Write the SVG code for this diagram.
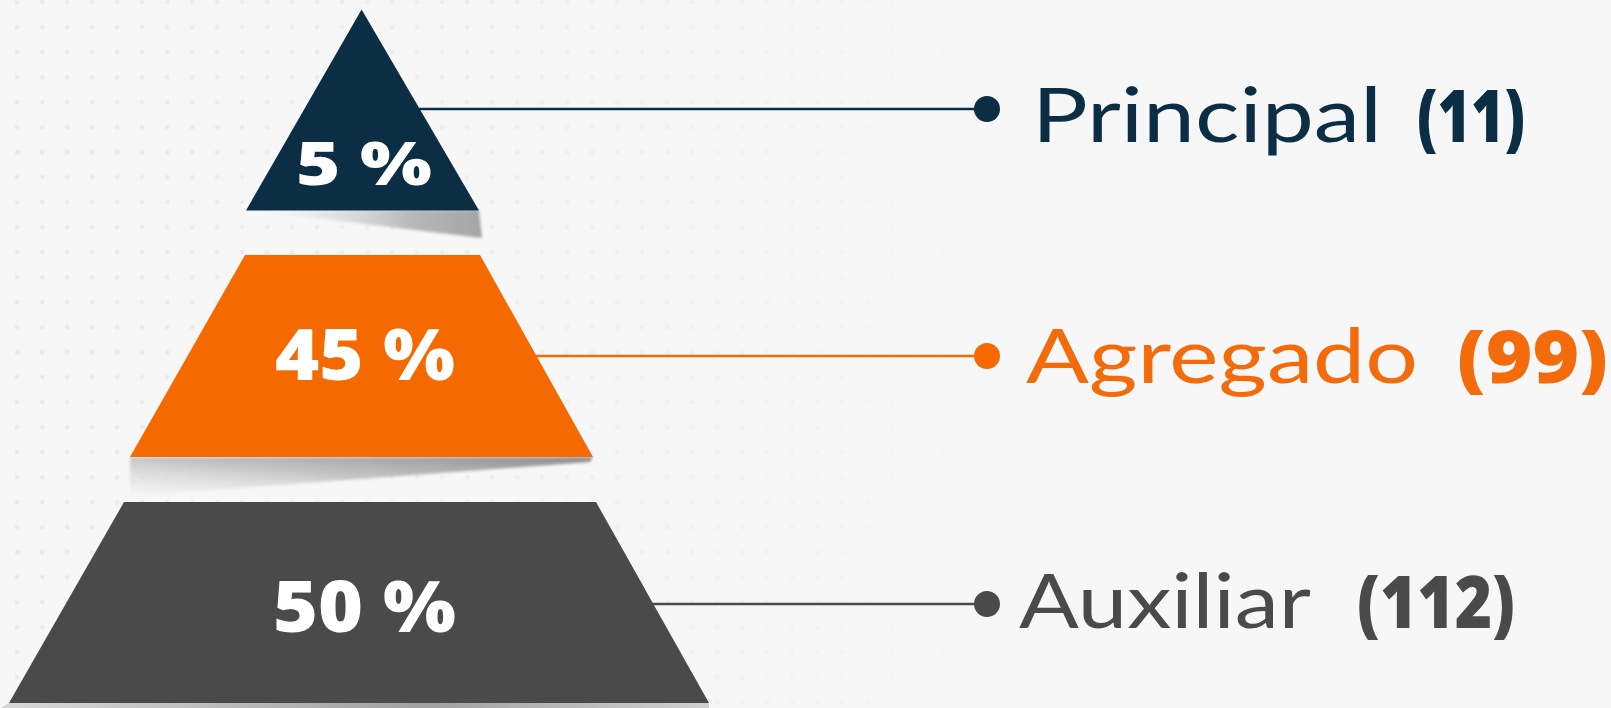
<svg xmlns="http://www.w3.org/2000/svg" width="1611" height="708" viewBox="0 0 1611 708">
  <style>
    .lbl { font-family: Lato, "Open Sans", "Liberation Sans", sans-serif; font-size: 75px; font-weight: 400; font-style: normal; }
    .cnt { font-family: "Open Sans", "Liberation Sans", sans-serif; font-size: 72px; font-weight: 800; font-style: normal; }
    .pct { font-family: "Open Sans", "Liberation Sans", sans-serif; font-weight: 800; font-style: normal; fill: #ffffff; }
    .navy { fill: #0b2e44; }
    .orange { fill: #f56a00; }
    .gray { fill: #4a4a4a; }
    .conn { stroke-width: 2.5; fill: none; }
  </style>
  <defs>
    <pattern id="dots" x="4.7" y="14.7" width="25" height="25" patternUnits="userSpaceOnUse">
      <circle cx="12.5" cy="12.5" r="2.2" fill="#e8e8e8"/>
    </pattern>
    <linearGradient id="fadeR" x1="0" y1="0" x2="1" y2="0">
      <stop offset="0" stop-color="#fff" stop-opacity="1"/>
      <stop offset="0.55" stop-color="#fff" stop-opacity="0.6"/>
      <stop offset="1" stop-color="#fff" stop-opacity="0"/>
    </linearGradient>
    <mask id="dotMask" maskUnits="userSpaceOnUse" x="0" y="0" width="1000" height="708">
      <rect x="0" y="0" width="1000" height="708" fill="url(#fadeR)"/>
    </mask>
    <linearGradient id="shTri" x1="0" y1="0" x2="1" y2="0">
      <stop offset="0" stop-color="#e8e8e8" stop-opacity="0"/>
      <stop offset="0.7" stop-color="#b8b8b8"/>
      <stop offset="1" stop-color="#a4a4a4"/>
    </linearGradient>
    <linearGradient id="shOr" x1="1" y1="0" x2="0" y2="1">
      <stop offset="0" stop-color="#8c8c8c"/>
      <stop offset="0.5" stop-color="#c4c4c4"/>
      <stop offset="1" stop-color="#ececec" stop-opacity="0.3"/>
    </linearGradient>
    <linearGradient id="shGr" x1="0" y1="0" x2="1" y2="0">
      <stop offset="0" stop-color="#d8d8d8"/>
      <stop offset="0.6" stop-color="#a0a0a0"/>
      <stop offset="1" stop-color="#d0d0d0"/>
    </linearGradient>
    <filter id="soft" x="-5%" y="-50%" width="110%" height="200%">
      <feGaussianBlur stdDeviation="1.5"/>
    </filter>
  </defs>

  <rect x="0" y="0" width="1611" height="708" fill="#f7f7f7"/>
  <rect x="0" y="0" width="1000" height="708" fill="url(#dots)" mask="url(#dotMask)"/>

  <!-- shadows -->
  <polygon points="246,210 479,210 482,238" fill="url(#shTri)" filter="url(#soft)"/>
  <polygon points="130,457 593,457 590,462 130,496" fill="url(#shOr)" filter="url(#soft)"/>
  <polygon points="9,703 709,703 709,708 0,708" fill="url(#shGr)"/>

  <g id="connectors">
    <line class="conn" x1="419" y1="109" x2="987" y2="109" stroke="#0b2e44"/>
    <circle cx="987" cy="109" r="13" class="navy"/>
    <line class="conn" x1="536" y1="356" x2="987" y2="356" stroke="#f56a00"/>
    <circle cx="987" cy="356" r="13" class="orange"/>
    <line class="conn" x1="652" y1="604" x2="987" y2="604" stroke="#4a4a4a"/>
    <circle cx="987" cy="604" r="13" class="gray"/>
  </g>

  <g id="node-principal">
    <polygon points="361.6,9.5 479,210.5 246,210.5" class="navy"/>
    <text class="pct" x="296" y="185" font-size="60" textLength="136" lengthAdjust="spacingAndGlyphs">5 %</text>
    <text class="lbl navy" x="1032" y="142" textLength="350" lengthAdjust="spacingAndGlyphs">Principal</text>
    <text class="cnt navy" x="1417" y="142" textLength="108" lengthAdjust="spacingAndGlyphs">(11)</text>
  </g>

  <g id="node-agregado">
    <polygon points="245,255 480,255 593,457 130,457" class="orange"/>
    <text class="pct" x="275" y="380" font-size="70" textLength="180" lengthAdjust="spacingAndGlyphs">45 %</text>
    <text class="lbl" x="1026" y="383" fill="#f36b0b" textLength="392" lengthAdjust="spacingAndGlyphs">Agregado</text>
    <text class="cnt" x="1457" y="383" fill="#f36b0b" textLength="151" lengthAdjust="spacingAndGlyphs">(99)</text>
  </g>

  <g id="node-auxiliar">
    <polygon points="124,502 596,502 709,703 9,703" class="gray"/>
    <text class="pct" x="273" y="632" font-size="70" textLength="183" lengthAdjust="spacingAndGlyphs">50 %</text>
    <text class="lbl gray" x="1019" y="628" textLength="292" lengthAdjust="spacingAndGlyphs">Auxiliar</text>
    <text class="cnt gray" x="1357" y="628" textLength="158" lengthAdjust="spacingAndGlyphs">(112)</text>
  </g>
</svg>
